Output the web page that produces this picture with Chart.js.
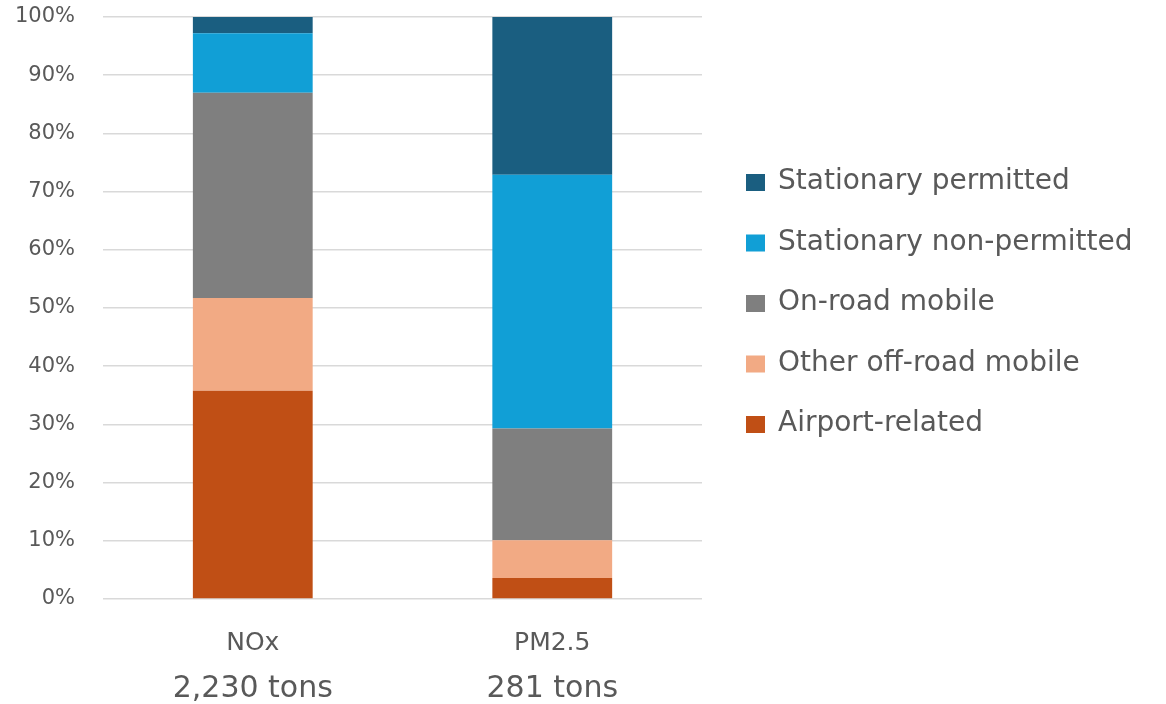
<!DOCTYPE html>
<html>
<head>
<meta charset="utf-8">
<script src="https://cdn.jsdelivr.net/npm/chart.js@4"></script>
<style>
  html, body { margin: 0; padding: 0; background: #ffffff; }
  #wrap { width: 1166px; height: 704px; }
</style>
</head>
<body>
<div id="wrap"><canvas id="chart" width="1166" height="704"></canvas></div>
<script>
const pollutants = ["NOx", "PM2.5"];
const totals = ["2,230 tons", "281 tons"];

const sources = [
  "Airport-related",
  "Other off-road mobile",
  "On-road mobile",
  "Stationary non-permitted",
  "Stationary permitted",
];

// percent share of each pollutant, one array per source
const airportRelated = [35.8, 3.6];
const otherOffRoad = [15.9, 6.5];
const onRoadMobile = [35.3, 19.2];
const stationaryNonPermitted = [10.2, 43.6];
const stationaryPermitted = [2.8, 27.1];

const yTicks = [0, 10, 20, 30, 40, 50, 60, 70, 80, 90, 100];

const colors = ["#c04f15", "#f2aa84", "#7f7f7f", "#119fd6", "#1a5e80"];
const seriesValues = [
  airportRelated,
  otherOffRoad,
  onRoadMobile,
  stationaryNonPermitted,
  stationaryPermitted,
];

const FONT = "'DejaVu Sans', sans-serif";
const TEXT = "#595959";

// second line under each category: the tonnage
const totalsLabels = {
  id: "totalsLabels",
  afterDraw(chart) {
    const { ctx } = chart;
    const x = chart.scales.x;
    ctx.save();
    ctx.font = "30px " + FONT;
    ctx.fillStyle = TEXT;
    ctx.textAlign = "center";
    ctx.textBaseline = "middle";
    totals.forEach((t, i) => {
      ctx.fillText(t, x.getPixelForValue(i), 689);
    });
    ctx.restore();
  },
};

// legend on the right, top item = last dataset (matches stack order)
const sideLegend = {
  id: "sideLegend",
  afterDraw(chart) {
    const { ctx } = chart;
    const items = chart.data.datasets.slice().reverse();
    ctx.save();
    ctx.font = "28px " + FONT;
    ctx.textBaseline = "middle";
    ctx.textAlign = "left";
    items.forEach((ds, i) => {
      const y = 182 + i * 60.5;
      ctx.fillStyle = ds.backgroundColor;
      ctx.fillRect(746, y - 8, 19, 17);
      ctx.fillStyle = TEXT;
      ctx.fillText(ds.label, 778, y);
    });
    ctx.restore();
  },
};

const datasets = sources.map((name, i) => ({
  label: name,
  data: seriesValues[i],
  backgroundColor: colors[i],
  borderWidth: 0,
  barPercentage: 0.4,
  categoryPercentage: 1,
}));

new Chart(document.getElementById("chart").getContext("2d"), {
  type: "bar",
  data: { labels: pollutants, datasets: datasets },
  options: {
    responsive: false,
    animation: false,
    layout: {
      padding: { top: 17, right: 464, bottom: 17, left: 15 },
    },
    scales: {
      x: {
        stacked: true,
        grid: { display: false, drawTicks: false },
        border: { display: false },
        ticks: {
          color: TEXT,
          padding: 29,
          font: { family: FONT, size: 25 },
        },
      },
      y: {
        stacked: true,
        min: 0,
        max: 100,
        afterBuildTicks: (axis) => {
          axis.ticks = yTicks.map((v) => ({ value: v }));
        },
        grid: {
          color: "#d9d9d9",
          lineWidth: 1.5,
          drawTicks: true,
          tickLength: 28,
          tickColor: "rgba(0,0,0,0)",
        },
        border: { display: false },
        ticks: {
          color: TEXT,
          padding: 0,
          font: { family: FONT, size: 21 },
          callback: (v) => v + "%",
        },
      },
    },
    plugins: {
      legend: { display: false },
      tooltip: { enabled: false },
    },
  },
  plugins: [totalsLabels, sideLegend],
});
</script>
</body>
</html>
